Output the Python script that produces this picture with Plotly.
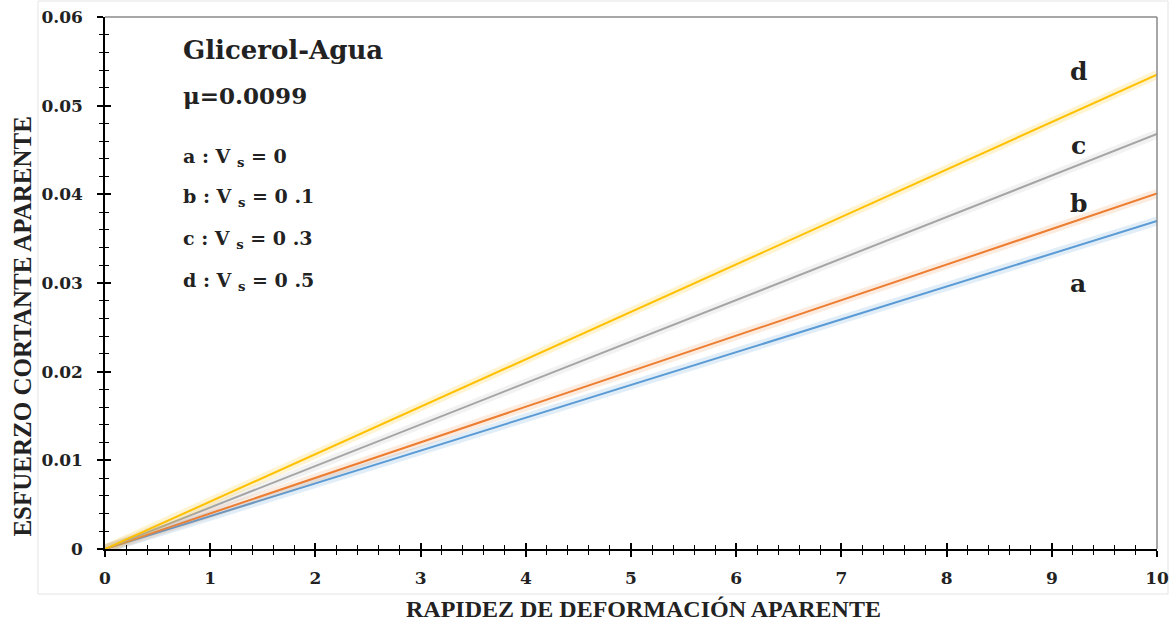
import plotly.graph_objects as go

# Apparent shear rate (x) and apparent shear stress for each solids velocity case
rate = [0, 1, 2, 3, 4, 5, 6, 7, 8, 9, 10]
stress_a = [0, 0.0037, 0.0074, 0.0111, 0.0148, 0.0185, 0.0222, 0.0259, 0.0296, 0.0333, 0.0370]
stress_b = [0, 0.00401, 0.00802, 0.01203, 0.01604, 0.02005, 0.02406, 0.02807, 0.03208, 0.03609, 0.0401]
stress_c = [0, 0.00468, 0.00936, 0.01404, 0.01872, 0.0234, 0.02808, 0.03276, 0.03744, 0.04212, 0.0468]
stress_d = [0, 0.00535, 0.0107, 0.01605, 0.0214, 0.02675, 0.0321, 0.03745, 0.0428, 0.04815, 0.0535]

series_names = ["a", "b", "c", "d"]
series_values = [stress_a, stress_b, stress_c, stress_d]
series_colors = ["#5B9BD5", "#ED7D31", "#A5A5A5", "#FFC000"]
glow_colors = ["rgba(91,155,213,0.18)", "rgba(237,125,49,0.15)",
               "rgba(165,165,165,0.15)", "rgba(255,192,0,0.18)"]
end_label_y = [0.0300, 0.0390, 0.0455, 0.0538]

x_tick_vals = [0, 1, 2, 3, 4, 5, 6, 7, 8, 9, 10]
x_tick_text = ["0", "1", "2", "3", "4", "5", "6", "7", "8", "9", "10"]
y_tick_vals = [0, 0.01, 0.02, 0.03, 0.04, 0.05, 0.06]
y_tick_text = ["0", "0.01", "0.02", "0.03", "0.04", "0.05", "0.06"]

legend_lines = ["a : V <sub>s</sub> = 0", "b : V <sub>s</sub> = 0 .1",
                "c : V <sub>s</sub> = 0 .3", "d : V <sub>s</sub> = 0 .5"]

TITLE_FONT = "Liberation Serif"
TEXT_FONT = "DejaVu Serif"
INK = "#222222"


def bold(labels):
    return ["<b>" + s + "</b>" for s in labels]


fig = go.Figure()

for name, vals, col, glow in zip(series_names, series_values, series_colors, glow_colors):
    fig.add_trace(go.Scatter(x=rate, y=vals, mode="lines",
                             line=dict(color=glow, width=9), hoverinfo="skip",
                             showlegend=False))
    fig.add_trace(go.Scatter(x=rate, y=vals, mode="lines", name=name,
                             line=dict(color=col, width=2), showlegend=False))

# helper trace on the overlay axes so the inner tick marks are drawn
fig.add_trace(go.Scatter(x=[None], y=[None], xaxis="x2", yaxis="y2",
                         showlegend=False, hoverinfo="skip"))

tickfont = dict(family=TEXT_FONT, size=17, color=INK)

fig.update_layout(
    width=1172, height=627,
    margin=dict(l=105, r=15, t=17, b=78),
    paper_bgcolor="white", plot_bgcolor="white",
    font=dict(family=TEXT_FONT, color=INK),
    xaxis=dict(range=[0, 10], tickmode="array", tickvals=x_tick_vals, ticktext=bold(x_tick_text),
               showgrid=False, zeroline=False, automargin=False,
               showline=True, linecolor="black", linewidth=1.5,
               ticks="outside", ticklen=6, tickwidth=1.5, tickcolor="black",
               minor=dict(dtick=0.2, ticks="outside", ticklen=4, tickwidth=1.2, tickcolor="black"),
               tickfont=tickfont, ticklabelstandoff=7),
    yaxis=dict(range=[0, 0.06], tickmode="array", tickvals=y_tick_vals, ticktext=bold(y_tick_text),
               showgrid=False, zeroline=False, automargin=False,
               showline=True, linecolor="black", linewidth=1.5,
               ticks="outside", ticklen=6, tickwidth=1.5, tickcolor="black",
               minor=dict(dtick=0.002, ticks="outside", ticklen=4, tickwidth=1.2, tickcolor="black"),
               tickfont=tickfont, ticklabelstandoff=11),
    xaxis2=dict(range=[0, 10], overlaying="x", anchor="y", side="bottom",
                dtick=1, showgrid=False, zeroline=False, showticklabels=False,
                ticks="inside", ticklen=6, tickwidth=1.5, tickcolor="black",
                minor=dict(dtick=0.2, ticks="inside", ticklen=4, tickwidth=1.2, tickcolor="black")),
    yaxis2=dict(range=[0, 0.06], overlaying="y", anchor="x", side="left",
                dtick=0.01, showgrid=False, zeroline=False, showticklabels=False,
                ticks="inside", ticklen=6, tickwidth=1.5, tickcolor="black",
                minor=dict(dtick=0.002, ticks="inside", ticklen=4, tickwidth=1.2, tickcolor="black")),
)

# top and right plot frame in gray
fig.add_shape(type="line", xref="paper", yref="paper", x0=0, x1=1, y0=1, y1=1,
              line=dict(color="#8a8a8a", width=1.5))
fig.add_shape(type="line", xref="paper", yref="paper", x0=1, x1=1, y0=0, y1=1,
              line=dict(color="#8a8a8a", width=1.5))

# faint outer chart frame
fig.add_shape(type="rect", xref="paper", yref="paper",
              x0=-0.0637, x1=1.0105, y0=-0.0846, y1=1.03,
              line=dict(color="#e4e4e4", width=1), layer="below")

# axis titles
fig.add_annotation(x=0.512, y=-0.112, xref="paper", yref="paper",
                   xanchor="center", yanchor="middle", showarrow=False,
                   text="<b>RAPIDEZ DE DEFORMACIÓN APARENTE</b>",
                   font=dict(family=TITLE_FONT, size=24, color=INK))
fig.add_annotation(x=-0.078, y=0.418, xref="paper", yref="paper",
                   xanchor="center", yanchor="middle", showarrow=False, textangle=-90,
                   text="<b>ESFUERZO CORTANTE APARENTE</b>",
                   font=dict(family=TITLE_FONT, size=25, color=INK))

# header texts
fig.add_annotation(x=0.072, y=0.938, xref="paper", yref="paper", xanchor="left", yanchor="middle",
                   text="<b>Glicerol-Agua</b>", showarrow=False,
                   font=dict(family=TEXT_FONT, size=26, color=INK))
fig.add_annotation(x=0.072, y=0.852, xref="paper", yref="paper", xanchor="left", yanchor="middle",
                   text="<b>μ=0.0099</b>", showarrow=False,
                   font=dict(family=TEXT_FONT, size=23, color=INK))
legend_y = [0.735, 0.660, 0.581, 0.502]
for txt, yy in zip(legend_lines, legend_y):
    fig.add_annotation(x=0.072, y=yy, xref="paper", yref="paper", xanchor="left", yanchor="middle",
                       text="<b>" + txt + "</b>", showarrow=False,
                       font=dict(family=TEXT_FONT, size=19, color=INK))

# curve labels near the right edge
for name, ly in zip(series_names, end_label_y):
    fig.add_annotation(x=9.25, y=ly, text="<b>" + name + "</b>", showarrow=False,
                       xanchor="center", yanchor="middle",
                       font=dict(family=TEXT_FONT, size=25, color=INK))

fig.write_html("out.html")
